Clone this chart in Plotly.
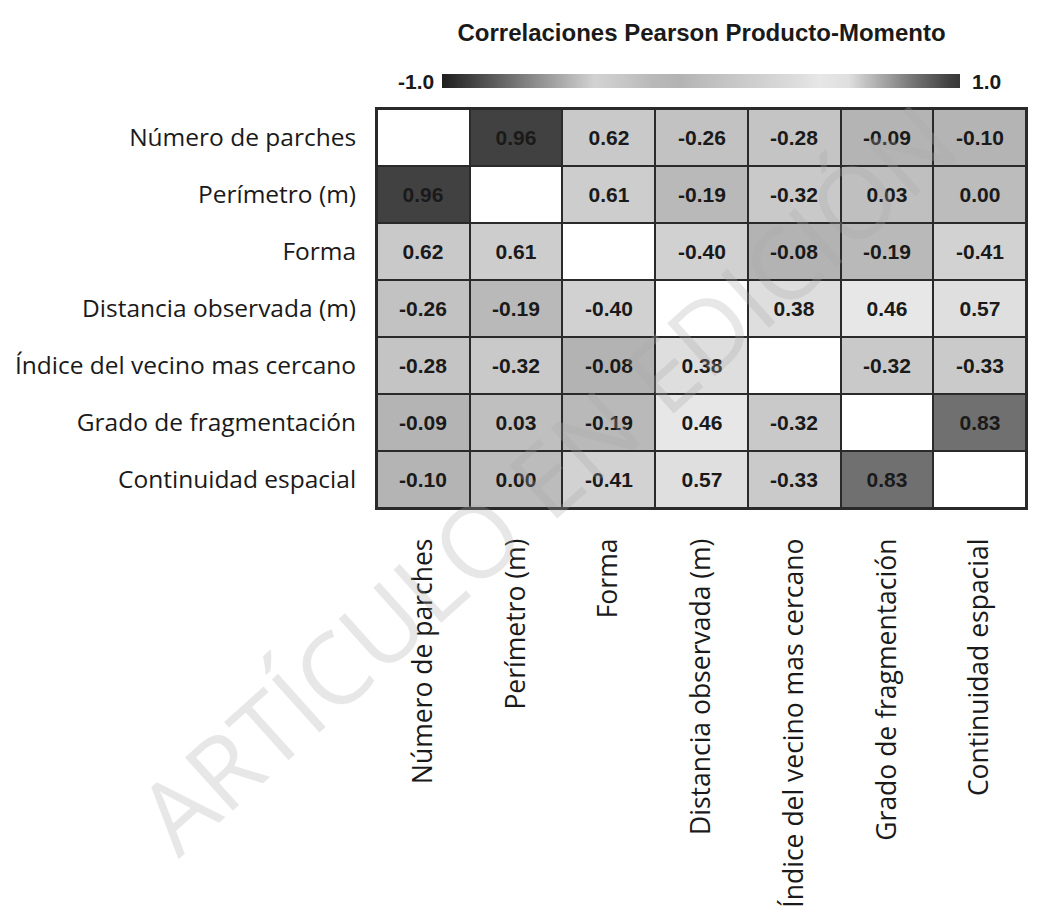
import plotly.graph_objects as go

# Variables of the landscape-pattern analysis
variables = [
    "Número de parches",
    "Perímetro (m)",
    "Forma",
    "Distancia observada (m)",
    "Índice del vecino mas cercano",
    "Grado de fragmentación",
    "Continuidad espacial",
]

# Pearson product-moment correlation matrix (diagonal = 1)
corr = [
    [1.00, 0.96, 0.62, -0.26, -0.28, -0.09, -0.10],
    [0.96, 1.00, 0.61, -0.19, -0.32, 0.03, 0.00],
    [0.62, 0.61, 1.00, -0.40, -0.08, -0.19, -0.41],
    [-0.26, -0.19, -0.40, 1.00, 0.38, 0.46, 0.57],
    [-0.28, -0.32, -0.08, 0.38, 1.00, -0.32, -0.33],
    [-0.09, 0.03, -0.19, 0.46, -0.32, 1.00, 0.83],
    [-0.10, 0.00, -0.41, 0.57, -0.33, 0.83, 1.00],
]

title_text = "Correlaciones Pearson Producto-Momento"
scale_min_label = "-1.0"
scale_max_label = "1.0"
watermark_text = "ARTÍCULO EN EDICIÓN"

n = len(variables)
off_diag = [[None if i == j else corr[i][j] for j in range(n)] for i in range(n)]
diag = [[corr[i][j] if i == j else None for j in range(n)] for i in range(n)]
labels = [["" if i == j else f"{corr[i][j]:.2f}" for j in range(n)] for i in range(n)]

# grey colour ramp used for the cells and the scale bar
grey_scale = [
    [0.000, "#1e1e1e"],
    [0.150, "#7a7a7a"],
    [0.295, "#d2d2d2"],
    [0.350, "#c7c7c7"],
    [0.405, "#b9b9b9"],
    [0.460, "#b3b3b3"],
    [0.500, "#bcbcbc"],
    [0.690, "#dedede"],
    [0.730, "#e7e7e7"],
    [0.785, "#dfdfdf"],
    [0.810, "#c9c9c9"],
    [0.915, "#707070"],
    [0.980, "#414141"],
    [1.000, "#383838"],
]

fig = go.Figure()

fig.add_trace(go.Heatmap(
    z=off_diag,
    x=variables,
    y=variables,
    zmin=-1, zmax=1,
    colorscale=grey_scale,
    text=labels,
    texttemplate="%{text}",
    textfont=dict(family="Liberation Sans", size=21, color="#1a1a1a", weight="bold"),
    xgap=2, ygap=2,
    colorbar=dict(
        orientation="h",
        x=0.5, xanchor="center",
        y=1.052, yanchor="bottom",
        len=518, lenmode="pixels",
        thickness=14,
        xpad=0, ypad=0,
        outlinewidth=0,
        showticklabels=False,
        ticks="",
    ),
    hoverongaps=False,
))

# diagonal cells drawn blank
fig.add_trace(go.Heatmap(
    z=diag,
    x=variables,
    y=variables,
    zmin=0, zmax=1,
    colorscale=[[0, "#ffffff"], [1, "#ffffff"]],
    showscale=False,
    xgap=2, ygap=2,
    hoverongaps=False,
))

fig.update_xaxes(
    tickangle=-90,
    tickfont=dict(family="Open Sans", size=26.5, color="#1a1a1a"),
    ticks="outside", ticklen=18, tickcolor="rgba(0,0,0,0)",
    showline=True, mirror=True, linecolor="#2a2a2a", linewidth=2,
    showgrid=False, zeroline=False,
)
fig.update_yaxes(
    autorange="reversed",
    tickfont=dict(family="Open Sans", size=24.5, color="#1a1a1a"),
    ticks="outside", ticklen=14, tickcolor="rgba(0,0,0,0)",
    showline=True, mirror=True, linecolor="#2a2a2a", linewidth=2,
    showgrid=False, zeroline=False,
)

bold_scale_font = dict(family="Liberation Sans", size=21, color="#1a1a1a", weight="bold")

fig.update_layout(
    width=1055, height=920,
    margin=dict(l=377, r=29, t=109, b=408),
    paper_bgcolor="#ffffff",
    plot_bgcolor="#2a2a2a",
    title=dict(
        text=title_text,
        x=0.5, xref="paper", xanchor="center",
        y=1 - 40 / 920, yref="container", yanchor="middle",
        font=dict(family="Liberation Sans", size=24, color="#1a1a1a", weight="bold"),
    ),
    annotations=[
        dict(text=scale_min_label, xref="paper", yref="paper",
             x=(436 - 377) / 649, y=(511 - 80) / 403,
             xanchor="right", yanchor="middle", showarrow=False, font=bold_scale_font),
        dict(text=scale_max_label, xref="paper", yref="paper",
             x=(970 - 377) / 649, y=(511 - 80) / 403,
             xanchor="left", yanchor="middle", showarrow=False, font=bold_scale_font),
        dict(text=watermark_text, xref="paper", yref="paper",
             x=(545 - 377) / 649, y=(511 - 480) / 403,
             xanchor="center", yanchor="middle", showarrow=False, textangle=-42,
             font=dict(family="Open Sans", size=100, color="rgba(170,170,170,0.28)")),
    ],
)

fig.write_html("out.html")
